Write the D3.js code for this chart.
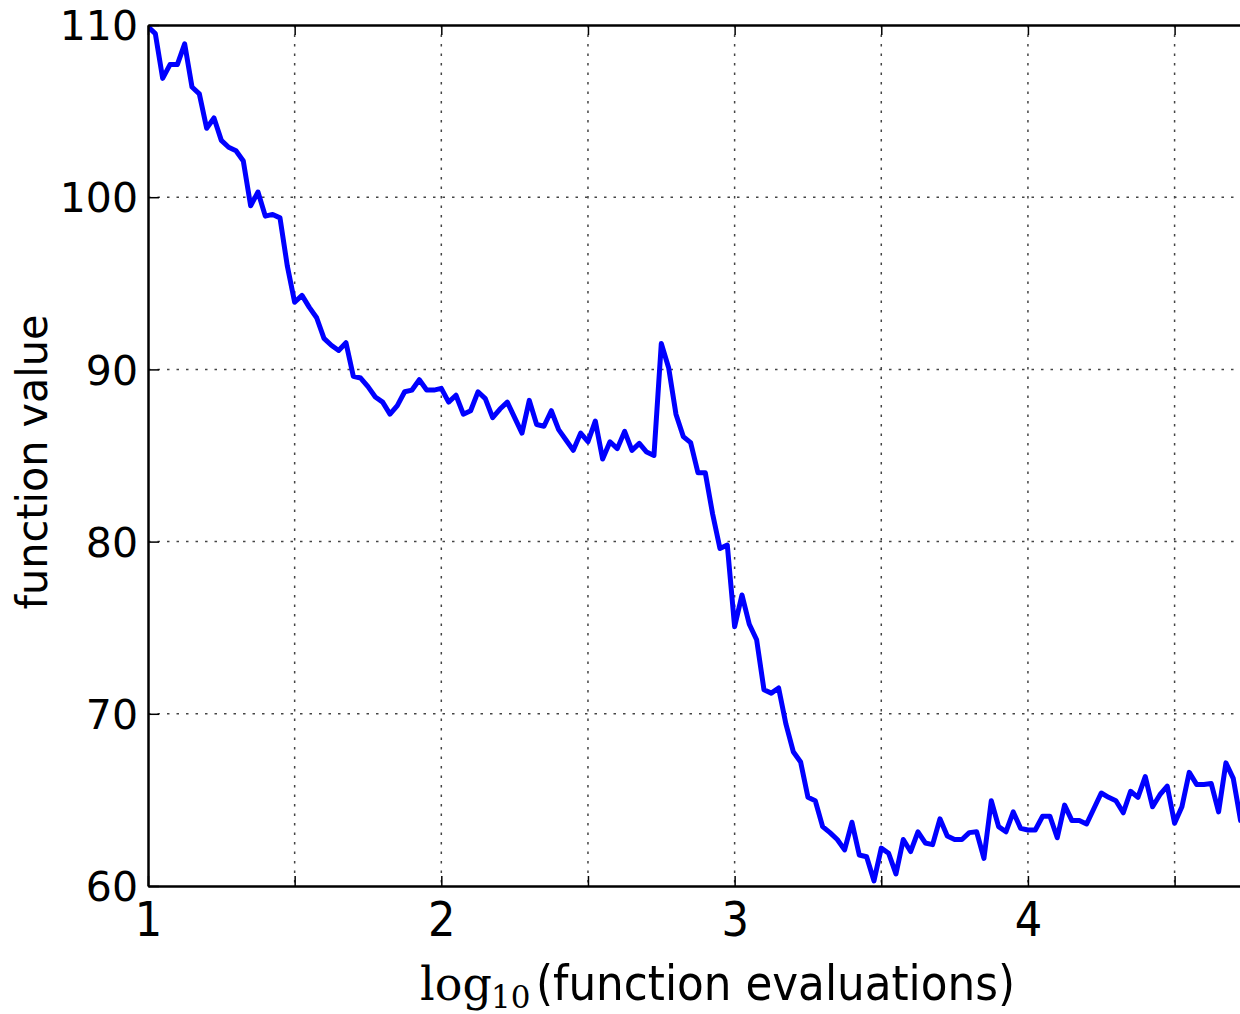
<!DOCTYPE html>
<html><head><meta charset="utf-8">
<script src="https://cdn.jsdelivr.net/npm/d3@7"></script>
<style>body{margin:0;background:#fff}svg{display:block}</style>
</head><body>
<script>
const xVals = [1.000,1.025,1.050,1.075,1.100,1.125,1.150,1.175,1.200,1.225,1.250,1.275,1.300,1.325,1.350,1.375,1.400,1.425,1.450,1.475,
1.500,1.525,1.550,1.575,1.600,1.625,1.650,1.675,1.700,1.725,1.750,1.775,1.800,1.825,1.850,1.875,1.900,1.925,1.950,1.975,
2.000,2.025,2.050,2.075,2.100,2.125,2.150,2.175,2.200,2.225,2.250,2.275,2.300,2.325,2.350,2.375,2.400,2.425,2.450,2.475,
2.500,2.525,2.550,2.575,2.600,2.625,2.650,2.675,2.700,2.725,2.750,2.775,2.800,2.825,2.850,2.875,2.900,2.925,2.950,2.975,
3.000,3.025,3.050,3.075,3.100,3.125,3.150,3.175,3.200,3.225,3.250,3.275,3.300,3.325,3.350,3.375,3.400,3.425,3.450,3.475,
3.500,3.525,3.550,3.575,3.600,3.625,3.650,3.675,3.700,3.725,3.750,3.775,3.800,3.825,3.850,3.875,3.900,3.925,3.950,3.975,
4.000,4.025,4.050,4.075,4.100,4.125,4.150,4.175,4.200,4.225,4.250,4.275,4.300,4.325,4.350,4.375,4.400,4.425,4.450,4.475,
4.500,4.525,4.550,4.575,4.600,4.625,4.650,4.675,4.700,4.725,4.750];
const fVals = [109.9,109.5,106.9,107.7,107.7,108.9,106.4,106.0,104.0,104.6,103.3,102.9,102.7,102.1,99.5,100.3,98.9,99.0,98.8,96.0,
93.9,94.3,93.6,93.0,91.8,91.4,91.1,91.55,89.6,89.5,89.0,88.4,88.1,87.4,87.9,88.7,88.8,89.4,88.8,88.8,
88.9,88.1,88.5,87.4,87.6,88.7,88.3,87.2,87.7,88.1,87.2,86.3,88.2,86.8,86.7,87.6,86.5,85.9,85.3,86.3,
85.8,87.0,84.8,85.8,85.4,86.4,85.3,85.7,85.2,85.0,91.5,90.1,87.4,86.1,85.75,84.0,84.0,81.6,79.6,79.8,
75.06,76.9,75.2,74.3,71.4,71.2,71.5,69.4,67.8,67.2,65.15,64.95,63.45,63.1,62.7,62.1,63.7,61.8,61.7,60.3,
62.2,61.9,60.7,62.7,62.0,63.15,62.5,62.4,63.9,62.9,62.7,62.7,63.1,63.15,61.6,64.95,63.45,63.15,64.3,63.35,
63.25,63.25,64.05,64.05,62.8,64.7,63.8,63.8,63.6,64.5,65.4,65.15,64.95,64.25,65.5,65.15,66.35,64.6,65.3,65.8,
63.65,64.6,66.6,65.9,65.9,65.95,64.3,67.15,66.25,63.8,64.6];
const xTickVals = [1,1.5,2,2.5,3,3.5,4,4.5];
const xTickLabels = ["1","","2","","3","","4",""];
const yTickVals = [60,70,80,90,100,110];
const yTickLabels = ["60","70","80","90","100","110"];

const W=1240,H=1014, L=148, R=1240, T=25, B=886;
const svg=d3.select("body").append("svg").attr("width",W).attr("height",H);
const x=d3.scaleLinear().domain([1,4.723]).range([L,R]);
const y=d3.scaleLinear().domain([60,110]).range([B,T]);

svg.append("defs").append("clipPath").attr("id","clip").append("rect")
  .attr("x",L).attr("y",T).attr("width",R-L).attr("height",B-T);

// grid
const g=svg.append("g");
g.selectAll("line.vg").data(xTickVals.filter(v=>v>1)).join("line")
  .attr("x1",d=>x(d)).attr("x2",d=>x(d)).attr("y1",T).attr("y2",B)
  .attr("stroke","#444").attr("stroke-width",1.5).attr("stroke-dasharray","2.5,7");
g.selectAll("line.hg").data(yTickVals.filter(v=>v>60&&v<110)).join("line")
  .attr("x1",L).attr("x2",R).attr("y1",d=>y(d)).attr("y2",d=>y(d))
  .attr("stroke","#444").attr("stroke-width",1.5).attr("stroke-dasharray","2.5,7");

// data line
const pts=xVals.map((v,i)=>[v,fVals[i]]);
svg.append("path").datum(pts).attr("clip-path","url(#clip)")
  .attr("d",d3.line().x(d=>x(d[0])).y(d=>y(d[1])))
  .attr("fill","none").attr("stroke","#0000ff").attr("stroke-width",5).attr("stroke-linejoin","round");

// axes via d3
const xAxisB=d3.axisBottom(x).tickValues(xTickVals).tickFormat((d,i)=>xTickLabels[i]).tickSizeInner(-10).tickSizeOuter(0).tickPadding(16);
const xa=svg.append("g").attr("transform",`translate(0,${B})`).call(xAxisB);
const xAxisT=d3.axisTop(x).tickValues(xTickVals).tickFormat("").tickSizeInner(-10).tickSizeOuter(0);
const xt=svg.append("g").attr("transform",`translate(0,${T})`).call(xAxisT);
const yAxisL=d3.axisLeft(y).tickValues(yTickVals).tickFormat((d,i)=>yTickLabels[i]).tickSizeInner(-11).tickSizeOuter(0).tickPadding(10);
const ya=svg.append("g").attr("transform",`translate(${L},0)`).call(yAxisL);
[xa,xt,ya].forEach(a=>{
  a.select(".domain").attr("stroke","#000").attr("stroke-width",2.5);
  a.selectAll(".tick line").attr("stroke","#000").attr("stroke-width",1.5);
});
xa.selectAll(".tick text").attr("font-family","'DejaVu Sans Condensed','DejaVu Sans',sans-serif")
  .attr("font-size",48).attr("fill","#000").attr("dy","0.71em");
ya.selectAll(".tick text").attr("font-family","'DejaVu Sans',sans-serif")
  .attr("font-size",41).attr("fill","#000").attr("dy","0.36em");

// axis labels
const xl=svg.append("text").attr("y",1000).attr("fill","#000");
xl.append("tspan").attr("x",420).attr("font-family","'DejaVu Serif','Liberation Serif',serif").attr("font-size",46).text("log");
xl.append("tspan").attr("x",491).attr("dy",8).attr("font-family","'DejaVu Serif','Liberation Serif',serif").attr("font-size",31).text("10");
xl.append("tspan").attr("x",536).attr("dy",-8).attr("font-family","'DejaVu Sans Condensed','DejaVu Sans',sans-serif")
  .attr("font-size",48).attr("textLength",479).attr("lengthAdjust","spacingAndGlyphs").text("(function evaluations)");

svg.append("text").attr("transform","translate(47,462) rotate(-90)").attr("text-anchor","middle")
  .attr("font-family","'DejaVu Sans Condensed','DejaVu Sans',sans-serif").attr("font-size",42)
  .attr("textLength",295).attr("lengthAdjust","spacingAndGlyphs").attr("fill","#000").text("function value");
</script>
</body></html>
